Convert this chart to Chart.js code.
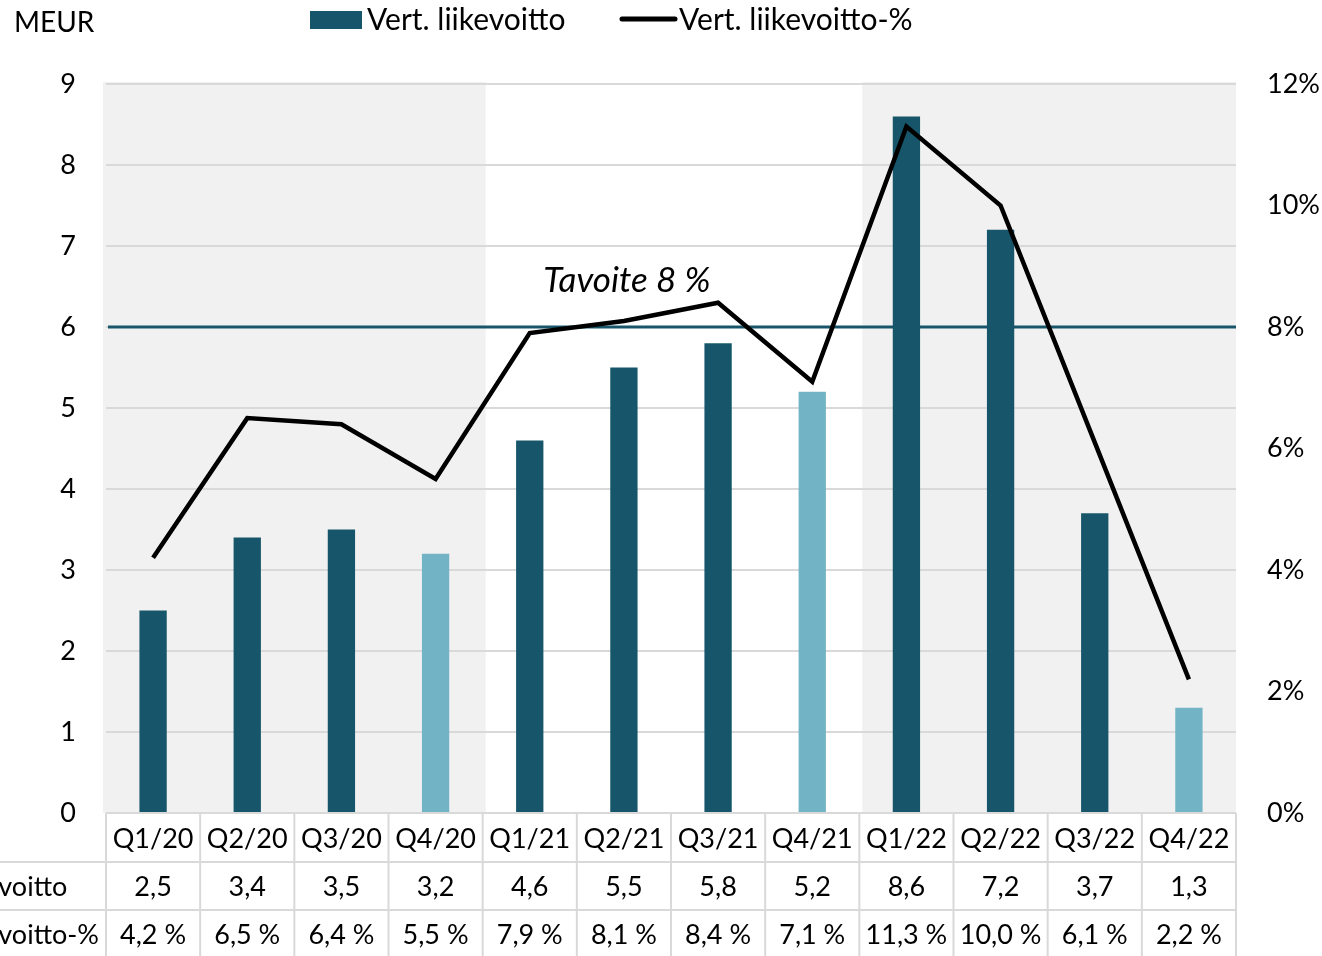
<!DOCTYPE html>
<html>
<head>
<meta charset="utf-8">
<script src="https://cdn.jsdelivr.net/npm/chart.js@4.4.1/dist/chart.umd.min.js"></script>
<style>
  body { margin: 0; background: #fff; }
</style>
</head>
<body>
<canvas id="myChart" width="1322" height="956"></canvas>
<script>
const gQuarters = ['Q1/20', 'Q2/20', 'Q3/20', 'Q4/20', 'Q1/21', 'Q2/21', 'Q3/21', 'Q4/21', 'Q1/22', 'Q2/22', 'Q3/22', 'Q4/22']
const gProfit = [2.5, 3.4, 3.5, 3.2, 4.6, 5.5, 5.8, 5.2, 8.6, 7.2, 3.7, 1.3]
const gMarginPct = [4.2, 6.5, 6.4, 5.5, 7.9, 8.1, 8.4, 7.1, 11.3, 10.0, 6.1, 2.2]
const gTargetPct = 8
const gShadedYears = ['20', '22']
const gRowLabels = ['Vert. liikevoitto', 'Vert. liikevoitto-%']

const gFont = 'Lato'
const gFontSize = 27
const gDark = '#17566a'
const gLight = '#73b3c6'
const gGrid = '#d9d9d9'

const fmt = v => v.toFixed(1).replace('.', ',')

// shaded background for every other year
const shadePlugin = {
  id: 'shade',
  beforeDraw(chart) {
    const { ctx, chartArea, scales } = chart
    const w = scales.x.getPixelForValue(1) - scales.x.getPixelForValue(0)
    ctx.save()
    ctx.fillStyle = '#f1f1f1'
    gShadedYears.forEach(yr => {
      const idx = gQuarters.map((q, i) => q.endsWith('/' + yr) ? i : -1).filter(i => i >= 0)
      const first = idx[0], last = idx[idx.length - 1]
      let x0 = scales.x.getPixelForValue(first) - w / 2 + 3
      let x1 = scales.x.getPixelForValue(last) + w / 2 + 3
      if (first === 0) x0 = chartArea.left - 3
      x1 = Math.min(x1, chartArea.right)
      ctx.fillRect(x0, chartArea.top - 2, x1 - x0, chartArea.bottom - chartArea.top + 2)
    })
    ctx.restore()
  }
}

// target line + label
const targetPlugin = {
  id: 'target',
  beforeDatasetsDraw(chart) {
    const { ctx, chartArea, scales } = chart
    const y = scales.y2.getPixelForValue(gTargetPct)
    ctx.save()
    ctx.strokeStyle = gDark
    ctx.lineWidth = 3
    ctx.beginPath()
    ctx.moveTo(chartArea.left + 2, y)
    ctx.lineTo(chartArea.right, y)
    ctx.stroke()
    ctx.fillStyle = '#000'
    ctx.font = `italic 35px ${gFont}`
    ctx.textAlign = 'center'
    ctx.textBaseline = 'middle'
    ctx.fillText(`Tavoite ${gTargetPct} %`, scales.x.getPixelForValue(5) + 3, y - 46)
    ctx.restore()
  }
}

// data table under the chart, legend and unit label at the top
const tablePlugin = {
  id: 'table',
  afterDraw(chart) {
    const { ctx, chartArea, scales } = chart
    const x = scales.x
    const w = x.getPixelForValue(1) - x.getPixelForValue(0)
    const top = chartArea.bottom
    ctx.save()
    ctx.strokeStyle = gGrid
    ctx.lineWidth = 2
    ctx.beginPath()
    ctx.moveTo(chartArea.left, top); ctx.lineTo(chartArea.right, top)
    ctx.moveTo(0, 862); ctx.lineTo(chartArea.right, 862)
    ctx.moveTo(0, 910); ctx.lineTo(chartArea.right, 910)
    for (let i = 0; i <= gQuarters.length; i++) {
      const px = chartArea.left + i * w
      ctx.moveTo(px, top); ctx.lineTo(px, 956)
    }
    ctx.stroke()

    ctx.fillStyle = '#000'
    ctx.font = `${gFontSize}px ${gFont}`
    ctx.textBaseline = 'middle'
    ctx.textAlign = 'center'
    gQuarters.forEach((q, i) => {
      const cx = x.getPixelForValue(i)
      ctx.fillText(q, cx, 839)
      ctx.fillText(fmt(gProfit[i]), cx, 887)
      ctx.fillText(fmt(gMarginPct[i]) + ' %', cx, 935)
    })
    ctx.textAlign = 'left'
    const lx = 99 - ctx.measureText(gRowLabels[1]).width
    ctx.fillText(gRowLabels[0], lx, 887)
    ctx.fillText(gRowLabels[1], lx, 935)

    // unit + legend
    ctx.font = `28px ${gFont}`
    ctx.fillText('MEUR', 14, 23)
    ctx.fillStyle = gDark
    ctx.fillRect(310, 11, 52, 18)
    ctx.fillStyle = '#000'
    ctx.font = `30px ${gFont}`
    ctx.fillText(gRowLabels[0], 367, 20)
    ctx.strokeStyle = '#000'
    ctx.lineWidth = 5
    ctx.lineCap = 'round'
    ctx.beginPath()
    ctx.moveTo(622, 19); ctx.lineTo(675, 19)
    ctx.stroke()
    ctx.fillText(gRowLabels[1], 679, 20)
    ctx.restore()
  }
}

function displayChart() {
  const ctx = document.getElementById('myChart').getContext('2d')
  new Chart(ctx, {
    data: {
      labels: gQuarters,
      datasets: [{
        type: 'line',
        label: gRowLabels[1],
        data: gMarginPct,
        yAxisID: 'y2',
        borderColor: '#000',
        borderWidth: 4.5,
        pointRadius: 0,
        tension: 0,
        order: 0
      }, {
        type: 'bar',
        label: gRowLabels[0],
        data: gProfit,
        yAxisID: 'y',
        backgroundColor: gQuarters.map(q => q.startsWith('Q4') ? gLight : gDark),
        barPercentage: 0.29,
        categoryPercentage: 1,
        order: 1
      }]
    },
    options: {
      responsive: false,
      animation: false,
      layout: { padding: { top: 84, bottom: 143, left: 0, right: 0 } },
      scales: {
        x: { display: false },
        y: {
          position: 'left',
          min: 0, max: 9,
          ticks: { stepSize: 1, padding: 30, color: '#000', font: { family: gFont, size: gFontSize } },
          grid: { color: gGrid, lineWidth: 2, drawTicks: false },
          border: { display: false },
          afterFit(s) { s.width = 106 }
        },
        y2: {
          position: 'right',
          min: 0, max: 12,
          ticks: { stepSize: 2, padding: 31, color: '#000', font: { family: gFont, size: gFontSize }, callback: v => v + '%' },
          grid: { display: false, drawTicks: false },
          border: { display: false },
          afterFit(s) { s.width = 86 }
        }
      },
      plugins: {
        legend: { display: false },
        tooltip: { enabled: false }
      }
    },
    plugins: [shadePlugin, targetPlugin, tablePlugin]
  })
}

document.fonts.load(`${gFontSize}px ${gFont}`).then(displayChart, displayChart)
</script>
</body>
</html>
